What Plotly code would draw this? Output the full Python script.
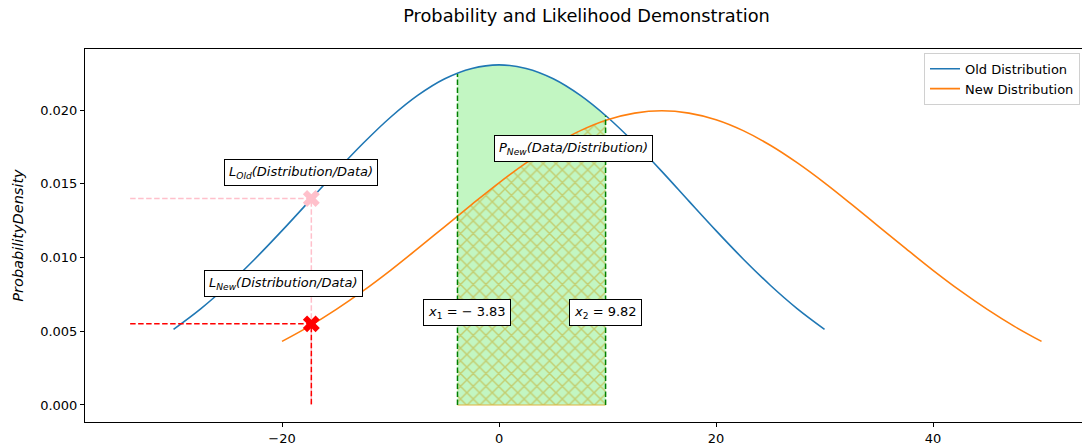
import numpy as np
import plotly.graph_objects as go

# Sampled densities of the two distributions
OLD_X = [-30, -27.5, -25, -22.5, -20, -17.5, -15, -12.5, -10, -7.5, -5, -2.5, 0,
         2.5, 5, 7.5, 10, 12.5, 15, 17.5, 20, 22.5, 25, 27.5, 30]
OLD_Y = [0.00513, 0.00652, 0.00812, 0.00990, 0.01182, 0.01382, 0.01584, 0.01776,
         0.01951, 0.02099, 0.02212, 0.02282, 0.02306, 0.02282, 0.02212, 0.02099,
         0.01951, 0.01776, 0.01584, 0.01382, 0.01182, 0.00990, 0.00812, 0.00652,
         0.00513]
NEW_X = [-20, -17.5, -15, -12.5, -10, -7.5, -5, -2.5, 0, 2.5, 5, 7.5, 10, 12.5, 15,
         17.5, 20, 22.5, 25, 27.5, 30, 32.5, 35, 37.5, 40, 42.5, 45, 47.5, 50]
NEW_Y = [0.00431, 0.00533, 0.00648, 0.00775, 0.00913, 0.01060, 0.01210, 0.01360,
         0.01506, 0.01641, 0.01761, 0.01860, 0.01934, 0.01979, 0.01995, 0.01979,
         0.01934, 0.01860, 0.01761, 0.01641, 0.01506, 0.01360, 0.01210, 0.01060,
         0.00913, 0.00775, 0.00648, 0.00533, 0.00431]

# Interval bounds and the observed data point
X1, X2 = -3.83, 9.82
LIK_X = -17.3
LIK_OLD = 0.0140
LIK_NEW = 0.0055
GUIDE_START = -34.0

TICK_X = [-20, 0, 20, 40]
TICK_Y = [0.000, 0.005, 0.010, 0.015, 0.020]


def span(xs, ys, a, b):
    xs = np.asarray(xs, dtype=float)
    ys = np.asarray(ys, dtype=float)
    inner = xs[(xs > a) & (xs < b)]
    sx = np.concatenate([[a], inner, [b]])
    return sx, np.interp(sx, xs, ys)


ox, oy = span(OLD_X, OLD_Y, X1, X2)
nx, ny = span(NEW_X, NEW_Y, X1, X2)
old_at = lambda v: float(np.interp(v, OLD_X, OLD_Y))

dash = "5.5px,2.5px"
fig = go.Figure()

# Area under the old curve between the bounds
fig.add_trace(go.Scatter(x=ox, y=oy, mode="lines", fill="tozeroy",
                         fillcolor="rgba(144,238,144,0.55)",
                         line=dict(width=0, shape="spline"),
                         showlegend=False, hoverinfo="skip"))
# Hatched area under the new curve between the bounds
fig.add_trace(go.Scatter(x=nx, y=ny, mode="lines", fill="tozeroy",
                         fillcolor="rgba(0,0,0,0)",
                         fillpattern=dict(shape="x", fgcolor="#c4a620", size=9,
                                          solidity=0.3, bgcolor="rgba(0,0,0,0)"),
                         line=dict(width=0, shape="spline"),
                         showlegend=False, hoverinfo="skip"))
fig.add_trace(go.Scatter(x=[X1, X2], y=[0, 0], mode="lines",
                         line=dict(color="#dcb43a", width=1.2),
                         showlegend=False, hoverinfo="skip"))

# Density curves
fig.add_trace(go.Scatter(x=OLD_X, y=OLD_Y, mode="lines", name="Old Distribution",
                         line=dict(color="#1f77b4", width=1.6, shape="spline")))
fig.add_trace(go.Scatter(x=NEW_X, y=NEW_Y, mode="lines", name="New Distribution",
                         line=dict(color="#ff7f0e", width=1.6, shape="spline")))

# Interval bound lines
fig.add_trace(go.Scatter(x=[X1, X1, None, X2, X2],
                         y=[0, old_at(X1), None, 0, old_at(X2)], mode="lines",
                         line=dict(color="green", width=1.5, dash=dash),
                         showlegend=False, hoverinfo="skip"))

# Likelihood guide lines
fig.add_trace(go.Scatter(x=[GUIDE_START, LIK_X, LIK_X], y=[LIK_OLD, LIK_OLD, 0],
                         mode="lines", line=dict(color="pink", width=1.5, dash=dash),
                         showlegend=False, hoverinfo="skip"))
fig.add_trace(go.Scatter(x=[GUIDE_START, LIK_X, LIK_X], y=[LIK_NEW, LIK_NEW, 0],
                         mode="lines", line=dict(color="red", width=1.5, dash=dash),
                         showlegend=False, hoverinfo="skip"))

# Likelihood markers
fig.add_trace(go.Scatter(x=[LIK_X], y=[LIK_OLD], mode="markers",
                         marker=dict(symbol="x", size=15, color="pink", line=dict(width=0)),
                         showlegend=False, hoverinfo="skip"))
fig.add_trace(go.Scatter(x=[LIK_X], y=[LIK_NEW], mode="markers",
                         marker=dict(symbol="x", size=15, color="red", line=dict(width=0)),
                         showlegend=False, hoverinfo="skip"))

box = dict(showarrow=False, bgcolor="white", bordercolor="black", borderwidth=1,
           borderpad=4, font=dict(family="DejaVu Sans", size=13, color="black"),
           xref="x", yref="y")
labels = [
    (-18.25, 0.01573, "<i>L</i><sub><i>Old</i></sub><i>(Distribution/Data)</i>"),
    (-19.9, 0.00827, "<i>L</i><sub><i>New</i></sub><i>(Distribution/Data)</i>"),
    (6.82, 0.01736, "<i>P</i><sub><i>New</i></sub><i>(Data/Distribution)</i>"),
    (-2.95, 0.00624, "<i>x</i><sub>1</sub> = \u2212 3.83"),
    (9.77, 0.00624, "<i>x</i><sub>2</sub> = 9.82"),
]
for lx, ly, txt in labels:
    fig.add_annotation(x=lx, y=ly, text=txt, **box)

fig.update_layout(
    width=1082, height=447,
    margin=dict(l=85, r=0, t=49, b=25),
    paper_bgcolor="white", plot_bgcolor="white",
    font=dict(family="DejaVu Sans", size=13, color="black"),
    title=dict(text="Probability and Likelihood Demonstration",
               x=0.503, xref="paper", y=1 - 16 / 447, yref="container",
               xanchor="center", yanchor="middle",
               font=dict(size=17.8, color="black")),
    legend=dict(x=0.998, y=0.99, xanchor="right", yanchor="top",
                bgcolor="white", bordercolor="#d0d0d0", borderwidth=1,
                font=dict(size=13), tracegroupgap=0),
    showlegend=True,
)
fig.update_xaxes(range=[-38.16, 53.73], tickvals=TICK_X,
                 ticktext=["\u221220", "0", "20", "40"],
                 showgrid=False, zeroline=False, showline=True, linecolor="black",
                 linewidth=1, mirror=True, ticks="outside", ticklen=4,
                 tickcolor="black", automargin=False)
fig.update_yaxes(range=[-0.001153, 0.024136], tickvals=TICK_Y,
                 tickformat=".3f", showgrid=False, zeroline=False,
                 showline=True, linecolor="black", linewidth=1, mirror=True,
                 ticks="outside", ticklen=4, tickcolor="black", automargin=False,
                 title=dict(text="<i>ProbabilityDensity</i>", standoff=13,
                            font=dict(size=14.5)))

fig.write_html("out.html")
